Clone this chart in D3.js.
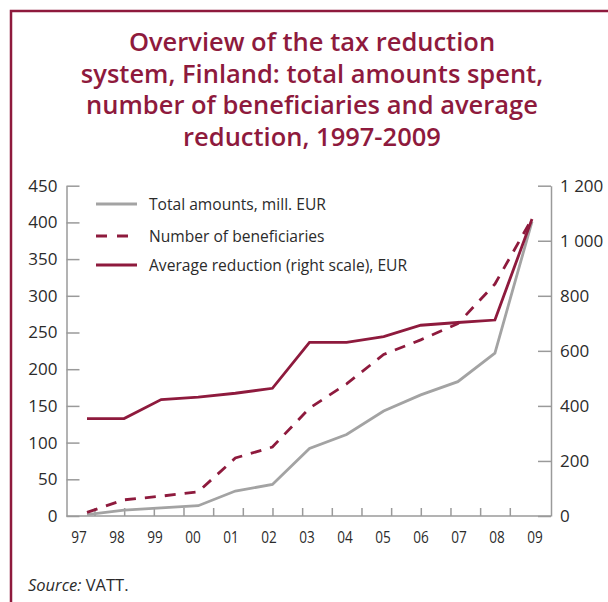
<!DOCTYPE html>
<html>
<head>
<meta charset="utf-8">
<script src="https://cdn.jsdelivr.net/npm/d3@7"></script>
<style>
  html, body { margin: 0; padding: 0; background: #fff; }
  svg { display: block; }
</style>
</head>
<body>
<svg id="chart" width="608" height="602"></svg>
<script>
// ---- data ----
const years = ["97","98","99","00","01","02","03","04","05","06","07","08","09"];
const totalAmounts = [2, 8, 11, 14, 34, 43, 92, 111, 143, 165, 183, 222, 401];
const beneficiaries = [5, 22, 27, 33, 79, 94, 147, 180, 220, 240, 262, 316, 405];
const avgReduction = [354, 354, 423, 432, 446, 464, 631, 631, 652, 693, 703, 712, 1079];
const leftTicks = [0, 50, 100, 150, 200, 250, 300, 350, 400, 450];
const rightTicks = [0, 200, 400, 600, 800, 1000, 1200];
const titleLines = [
  "Overview of the tax reduction",
  "system, Finland: total amounts spent,",
  "number of beneficiaries and average",
  "reduction, 1997-2009"
];
const legendItems = [
  { label: "Total amounts, mill. EUR", key: "total" },
  { label: "Number of beneficiaries", key: "benef" },
  { label: "Average reduction (right scale), EUR", key: "avg" }
];

const RED = "#8e1a3d";
const GREY = "#a3a3a3";
const AXIS = "#9a9a9a";
const TEXT = "#2b2b2b";
const FONT = "'Open Sans', 'Noto Sans', sans-serif";

const svg = d3.select("#chart");

// frame
svg.append("path")
  .attr("d", "M11,602 V11 H608")
  .attr("fill", "none").attr("stroke", RED).attr("stroke-width", 2.5);

// title
const title = svg.append("text")
  .attr("text-anchor", "middle")
  .attr("font-family", "'Open Sans', sans-serif")
  .attr("font-weight", 600)
  .attr("font-size", 25.5)
  .attr("fill", RED);
titleLines.forEach((t, i) => {
  title.append("tspan").attr("x", 312).attr("y", 51 + i * 31.5).text(t);
});

// scales
const xData = d3.scalePoint().domain(years).range([87, 532]);
const xLabel = d3.scalePoint().domain(years).range([79, 535]);
const xTick = d3.scaleLinear().domain([0, 14]).range([95, 510.3]);
const yL = d3.scaleLinear().domain([0, 450]).range([516, 185.7]);
const yR = d3.scaleLinear().domain([0, 1200]).range([516, 185.7]);

// left axis
const gL = svg.append("g").attr("transform", "translate(66.5,0)")
  .call(d3.axisLeft(yL).tickValues(leftTicks).tickSize(-13).tickSizeOuter(0).tickPadding(9));
// right axis
const fmtR = d => d >= 1000 ? Math.floor(d / 1000) + " " + d3.format("03")(d % 1000) : String(d);
const gR = svg.append("g").attr("transform", "translate(551,0)")
  .call(d3.axisRight(yR).tickValues(rightTicks).tickFormat(fmtR).tickSize(-13).tickSizeOuter(0).tickPadding(9));

[gL, gR].forEach(g => {
  g.select(".domain").attr("stroke", AXIS).attr("stroke-width", 1.5);
  g.selectAll(".tick line").attr("stroke", AXIS).attr("stroke-width", 1.5);
  g.selectAll(".tick text").attr("fill", TEXT).attr("font-family", FONT).attr("font-size", 17);
});

// bottom axis
svg.append("line")
  .attr("x1", 66.5).attr("x2", 551).attr("y1", yL(0)).attr("y2", yL(0))
  .attr("stroke", AXIS).attr("stroke-width", 1.5);
svg.append("g").selectAll("line").data(d3.range(15)).join("line")
  .attr("x1", d => xTick(d)).attr("x2", d => xTick(d))
  .attr("y1", yL(0)).attr("y2", yL(0) - 8)
  .attr("stroke", AXIS).attr("stroke-width", 1.5);
svg.append("g").selectAll("text").data(years).join("text")
  .attr("transform", d => `translate(${xLabel(d)},543) scale(0.8,1)`)
  .attr("text-anchor", "middle")
  .attr("font-family", FONT).attr("font-size", 17).attr("fill", TEXT)
  .text(d => d);

// lines
const lineL = d3.line().x((d, i) => xData(years[i])).y(d => yL(d));
const lineR = d3.line().x((d, i) => xData(years[i])).y(d => yR(d));

svg.append("path").datum(totalAmounts)
  .attr("d", lineL).attr("fill", "none")
  .attr("stroke", GREY).attr("stroke-width", 2.8);
svg.append("path").datum(beneficiaries)
  .attr("d", lineL).attr("fill", "none")
  .attr("stroke", RED).attr("stroke-width", 2.8).attr("stroke-dasharray", "11,9");
svg.append("path").datum(avgReduction)
  .attr("d", lineR).attr("fill", "none")
  .attr("stroke", RED).attr("stroke-width", 2.8);

// legend
const legendY = [204, 236, 265];
const lg = svg.append("g");
legendItems.forEach((it, i) => {
  const y = legendY[i];
  const ln = lg.append("line")
    .attr("x1", 96).attr("x2", 137).attr("y1", y).attr("y2", y)
    .attr("stroke-width", 3);
  if (it.key === "total") ln.attr("stroke", GREY);
  else ln.attr("stroke", RED);
  if (it.key === "benef") ln.attr("stroke-dasharray", "11,10");
  lg.append("text")
    .attr("x", 149).attr("y", y + 5.5)
    .attr("font-family", FONT).attr("font-size", 15.6).attr("fill", TEXT)
    .text(it.label);
});

// source
const src = svg.append("text")
  .attr("x", 28).attr("y", 591)
  .attr("font-family", FONT).attr("font-size", 16.5).attr("fill", TEXT);
src.append("tspan").attr("font-style", "italic").text("Source:");
src.append("tspan").text(" VATT.");
</script>
</body>
</html>
